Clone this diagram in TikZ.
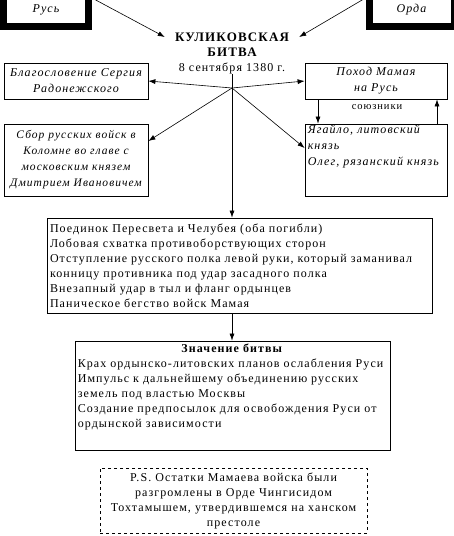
\documentclass[tikz,border=0pt]{standalone}
\usepackage{fontspec}
\setmainfont{Liberation Serif}[LetterSpace=9]
\usetikzlibrary{arrows.meta,positioning,calc}

\tikzset{
	box/.style={draw,line width=0.8pt,inner sep=3pt,font=\fontsize{12}{15}\selectfont},
	thick frame/.style={draw,line width=7pt,minimum width=85pt,minimum height=33pt,font=\fontsize{12}{15}\selectfont\itshape},
	arr/.style={-{Latex[length=7pt,width=5pt]},line width=0.6pt},
	plain/.style={inner sep=0pt,font=\fontsize{12}{15}\selectfont}
}

\begin{document}
\begin{tikzpicture}[x=1pt,y=-1pt]
\useasboundingbox (0,0) rectangle (453,536);

% top frames
\node[thick frame] (rus) at (46,10) {Русь};
\node[thick frame] (orda) at (411.5,10) {Орда};

% title
\node[plain,font=\fontsize{13}{16}\selectfont\bfseries,inner xsep=10pt] (kul) at (232,37) {КУЛИКОВСКАЯ};
\node[plain,font=\fontsize{13}{16}\selectfont\bfseries,below=6pt of kul] (bitva) {БИТВА};
\node[plain,below=6pt of bitva] (date) {8 сентября 1380 г.};
\coordinate (hub) at (232,88);

% boxes around
\node[box,minimum width=144pt,minimum height=36pt,align=center,font=\fontsize{12}{16}\selectfont\itshape] (blag) at (76,81) {Благословение Сергия\\Радонежского};
\node[box,minimum width=142pt,minimum height=36pt,align=center,font=\fontsize{12}{16}\selectfont\itshape] (pohod) at (376,81) {Поход Мамая\\на Русь};
\node[box,minimum width=144pt,minimum height=72pt,align=center,font=\fontsize{11.5}{16}\selectfont\itshape] (sbor) at (76,160) {Сбор русских войск в\\Коломне во главе с\\московским князем\\Дмитрием Ивановичем};
\node[box,minimum width=142pt,minimum height=72pt] (allies) at (376,160) {};
\node[plain,anchor=north west,align=left,font=\fontsize{12}{16}\selectfont\itshape] at ([shift={(3pt,-1pt)}]allies.north west) {Ягайло, литовский\\князь\\Олег, рязанский князь};
\node[plain,font=\fontsize{10.5}{12}\selectfont] (sojuz) at (377,107) {союзники};

% battle course
\node[box,minimum width=385pt,minimum height=95pt,text width=379pt,align=left] (fight) at (239.5,265.5) {Поединок Пересвета и Челубея (оба погибли)\\Лобовая схватка противоборствующих сторон\\Отступление русского полка левой руки, который заманивал\\конницу противника под удар засадного полка\\Внезапный удар в тыл и фланг ордынцев\\Паническое бегство войск Мамая};

% meaning
\node[box,minimum width=315pt,minimum height=109pt] (meaning) at (232.5,395.5) {};
\node[plain,anchor=north west,text width=309pt,align=left] at ([shift={(3pt,-3pt)}]meaning.north west) {\makebox[309pt]{\textbf{Значение битвы}}\\Крах ордынско-литовских планов ослабления Руси\\Импульс к дальнейшему объединению русских\\земель под властью Москвы\\Создание предпосылок для освобождения Руси от\\ордынской зависимости};

% postscript
\node[box,dashed,minimum width=267pt,minimum height=65pt,align=center] (ps) at (233.5,500.5) {P.S. Остатки Мамаева войска были\\разгромлены в Орде Чингисидом\\Тохтамышем, утвердившемся на ханском\\престоле};

% connectors
\draw[arr] ([yshift=-8pt]rus.north east) -- (kul.west);
\draw[arr] ([yshift=-8pt]orda.north west) -- (kul.east);
\draw (date.south) -- (hub);
\draw[arr] (hub) -- (blag.east);
\draw[arr] (hub) -- (pohod.west);
\draw[arr] (hub) -- ([yshift=19pt]sbor.east);
\draw[arr] (hub) -- ([yshift=12pt]allies.west);
\draw[arr] (hub) -- (fight.north -| hub);
\draw[arr] (fight.south -| hub) -- (meaning.north -| hub);
\draw[arr] ([xshift=-58pt]pohod.south) -- ([xshift=-58pt]allies.north);
\draw[arr] ([xshift=61pt]allies.north) -- ([xshift=61pt]pohod.south);

\end{tikzpicture}
\end{document}
